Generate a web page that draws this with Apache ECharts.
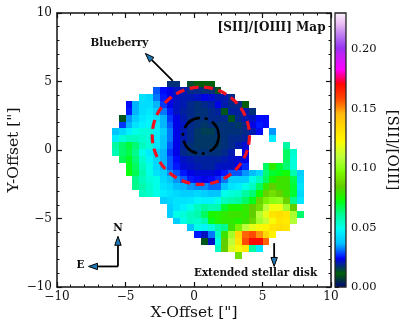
<!DOCTYPE html>
<html>
<head>
<meta charset="utf-8">
<style>html,body{margin:0;padding:0;background:#fff}#c{width:407px;height:329px}</style>
<script src="https://cdn.jsdelivr.net/npm/echarts@6/dist/echarts.min.js"></script>
</head>
<body>
<div id="c"></div>
<script>
// Map values: one row per 0.5" strip, top to bottom. null = blank pixel.
const rowLowerEdges = [4.5,4,3.5,3,2.5,2,1.5,1,0.5,0,-0.5,-1,-1.5,-2,-2.5,-3,-3.5,-4,-4.5,-5,-5.5,-6,-6.5,-7,-7.5,-8];
const rowLeftEdges  = [-2,-3,-4,-5,-5,-5.5,-5.5,-6,-6,-6,-6,-5.5,-5,-5,-4.5,-4.5,-4,-2.5,-2,-2,-1.5,-0.5,0,0.5,1.5,3];
const row00 = [.018,.018,null,.014,.012,.012,.012];
const row01 = [.030,.025,.024,.022,.021,.019,.019,.018,.018,.013];
const row02 = [.044,.042,.032,.026,.024,.022,.021,.021,.022,.024,.023,.021,.021,.019];
const row03 = [.025,.036,.043,.043,.036,.028,.024,.022,.021,.019,.018,.019,.020,.024,.021,.019,.019,.012];
const row04 = [.026,.036,.043,.045,.040,.032,.026,.022,.020,.019,.018,.018,.019,.020,.013,.020,.020,.021,.018];
const row05 = [.013,.034,.040,.045,.047,.044,.036,.028,.024,.021,.019,.018,.018,.019,.019,.019,.013,.019,.021,.022,.025,.025];
const row06 = [.028,.036,.044,.047,.048,.046,.036,.030,.024,.022,.019,.018,.017,.018,.018,.018,.018,.017,.019,.024,.026,.025];
const row07 = [.038,.042,.047,.050,.052,.052,.047,.040,.032,.024,.021,.019,.017,.016,.016,.018,.018,.018,.018,.019,.021,.025,null,.034];
const row08 = [.046,.052,.056,.056,.054,.052,.046,.038,.032,.024,.021,.019,.017,.017,.017,.017,.018,.019,.019,.020,null,null,null,.046];
const row09 = [.060,.065,.069,.064,.056,.052,.045,.038,.030,.024,.020,.018,.017,.017,.017,.017,.018,.019,.021,.023,null,null,null,null,null,.060];
const row10 = [.057,.065,.068,.062,.050,.046,.040,.036,.028,.024,.019,.018,.018,.018,.018,.018,.019,.021,null,.024,null,null,null,null,null,.066,.054];
const row11 = [.067,.071,.064,.054,.048,.042,.036,.030,.025,.022,.021,.020,.020,.020,.020,.021,.022,.023,.024,null,null,null,null,null,.066,.052];
const row12 = [.072,.066,.056,.050,.042,.036,.030,.026,.023,.022,.021,.020,.020,.022,.022,.022,.024,.027,null,null,.066,.078,.070,.064,.052];
const row13 = [.073,.067,.058,.050,.044,.040,.034,.030,.026,.024,.023,.023,.023,.024,.026,.030,.030,.034,.037,.042,.064,.070,.072,.074,.058,.040];
const row14 = [.062,.056,.052,.050,.042,.038,.034,.030,.026,.025,.024,.025,.027,.032,.040,.040,.040,.050,.056,.066,.075,.080,.080,.068,.042];
const row15 = [.062,.058,.054,.050,.044,.042,.037,.036,.034,.033,.033,.031,.031,.038,.044,.046,.050,.055,.066,.078,.085,.080,.080,.070,.044];
const row16 = [.056,.054,.050,.046,.044,.042,.040,.040,.042,.040,.038,.038,.050,.052,.054,.060,.064,.074,.086,.090,.086,.080,.070,.042];
const row17 = [.040,.042,.044,.044,.045,.048,.047,.047,.050,.056,.058,.060,.065,.072,.087,.095,.100,.102,.087,.062,.045];
const row18 = [.040,.044,.047,.050,.056,.060,.057,.058,.070,.075,.075,.078,.085,.090,.110,.120,.120,.105,.085];
const row19 = [.040,.050,.052,.056,.058,.066,.075,.076,.078,.080,.080,.078,.085,.108,.118,.130,.132,.130,.106,.065];
const row20 = [.040,.050,.055,.054,.058,.072,.076,.078,.078,.076,.080,.088,.105,.112,.122,.130,.128,.108];
const row21 = [.038,.050,.048,.052,.058,.062,.080,.095,.110,.118,.122,.124,.130,.132,.130];
const row22 = [.026,.022,.032,.055,.080,.105,.135,.155,.158,.150,.135,.125];
const row23 = [.013,.022,.050,.085,.110,.130,.158,.170,.170,.155];
const row24 = [.055,.085,.115,.122,.128,.060,.045];
const row25 = [.090];
const mapRows = [row00,row01,row02,row03,row04,row05,row06,row07,row08,row09,row10,row11,row12,row13,row14,row15,row16,row17,row18,row19,row20,row21,row22,row23,row24,row25];

const colorTicks = [0,0.05,0.10,0.15,0.20];
const colorMax = 0.2307;

// Overlay geometry in arcsec
const redCircle = [0.5,1.04,3.55];
const blackCircle = [0.5,1.04,1.31];
const blueberryArrow = [-1.55,5.05,-3.55,7.05];
const northArrow = [-5.55,-8.5,-5.55,-6.3];
const eastArrow = [-5.55,-8.5,-7.7,-8.5];
const diskArrow = [5.85,-6.8,5.85,-8.5];
const labelItems = [
  ['[SII]/[OIII] Map',9.6,8.9,'right',12],
  ['Blueberry',-7.55,7.8,'left',10.4],
  ['N',-5.55,-5.75,'center',10.4],
  ['E',-8.0,-8.45,'right',10.4],
  ['Extended stellar disk',0,-9.0,'left',10.4]
];

// colour scale stops (position, level)
const R=[[0,0],[.3098,0],[.3725,.3993],[.4235,.5003],[.5333,1],[.7922,1],[.8471,.75],[.87,.6],[.92,.75],[.96,.92],[1,1]];
const G=[[0,0],[.051,.3722],[.1059,0],[.1569,.7202],[.1608,.7537],[.1647,.7752],[.2157,1],[.2588,.9804],[.2706,.9804],[.3176,1],[.3686,.8081],[.4275,1],[.5216,1],[.6314,.7292],[.6863,.2796],[.7451,0],[.7922,0],[.87,.2],[.92,.5],[.96,.75],[1,.97]];
const B=[[0,.502],[.051,.0222],[.1098,1],[.2039,1],[.2627,.6145],[.3216,0],[.4157,0],[.4745,.2342],[.5333,0],[.5804,0],[.6314,.0549],[.6902,0],[.7373,0],[.7922,.9738],[.8,1],[.87,.95],[.96,.95],[1,1]];
function ch(t,s){for(let i=1;i<s.length;i++){if(t<=s[i][0]){const a=s[i-1],b=s[i];return a[1]+(b[1]-a[1])*(t-a[0])/(b[0]-a[0]);}}return s[s.length-1][1];}
function cmap(t){return 'rgb('+[R,G,B].map(s=>Math.round(255*ch(t,s))).join(',')+')';}
const palette=[];for(let i=0;i<256;i++)palette.push(cmap(i/255));

const CELL=0.5, SHIFT_Y=0.07;
const cells=[];
mapRows.forEach((row,r)=>row.forEach((v,i)=>{if(v!==null)cells.push([rowLeftEdges[r]+i*CELL,rowLowerEdges[r],v]);}));

const serif='"DejaVu Serif"';
const chart=echarts.init(document.getElementById('c'),null,{renderer:'canvas'});
const fmt=v=>String(v).replace('-','\u2212');
const spine={show:true,onZero:false,lineStyle:{color:'#111',width:1.5}};
const tick={show:true,inside:true,length:5,lineStyle:{color:'#111',width:1.2}};
const minor={show:true,splitNumber:5,length:2.5,lineStyle:{color:'#111',width:1}};
const base={type:'value',min:-10,max:10,interval:5,splitLine:{show:false},minorSplitLine:{show:false},axisLine:spine,axisTick:tick,minorTick:minor};
const lab={color:'#111',fontFamily:serif,fontSize:12,formatter:fmt};

function arrow(api,a){
  const p=api.coord([a[0],a[1]]),q=api.coord([a[2],a[3]]);
  const dx=q[0]-p[0],dy=q[1]-p[1],L=Math.hypot(dx,dy),ux=dx/L,uy=dy/L;
  const hl=9,hw=3.2,bx=q[0]-ux*hl,by=q[1]-uy*hl;
  return [{type:'line',shape:{x1:p[0],y1:p[1],x2:bx,y2:by},style:{stroke:'#000',lineWidth:1.8}},
    {type:'polygon',shape:{points:[q,[bx-uy*hw,by+ux*hw],[bx+uy*hw,by-ux*hw]]},style:{fill:'#1f77b4',stroke:'#000',lineWidth:1}}];
}
function circle(api,c,color,w,dash){
  const o=api.coord([c[0],c[1]]),r=api.size([c[2],0])[0];
  return {type:'circle',shape:{cx:o[0],cy:o[1],r:r},style:{fill:'none',stroke:color,lineWidth:w,lineDash:dash}};
}

chart.setOption({
  animation:false,backgroundColor:'#fff',
  grid:[{left:57,right:76,top:13,bottom:42,outerBoundsMode:'none'},{left:335,right:61,top:13,bottom:42,outerBoundsMode:'none'}],
  xAxis:[
    {...base,gridIndex:0,position:'bottom',axisLabel:{...lab,margin:4},name:'X-Offset ["]',nameLocation:'middle',nameMoveOverlap:false,nameGap:18,nameTextStyle:{fontFamily:serif,fontSize:15.5,color:'#111'}},
    {...base,gridIndex:0,position:'top',axisLabel:{show:false}},
    {type:'value',gridIndex:1,min:0,max:1,show:false}
  ],
  yAxis:[
    {...base,gridIndex:0,position:'left',axisLabel:{...lab,margin:5},name:'Y-Offset ["]',nameLocation:'middle',nameMoveOverlap:false,nameGap:35,nameTextStyle:{fontFamily:serif,fontSize:15.5,color:'#111'}},
    {...base,gridIndex:0,position:'right',axisLabel:{show:false}},
    {type:'value',gridIndex:1,position:'right',min:0,max:colorMax,splitLine:{show:false},
     axisLine:{show:false},
     axisTick:{show:true,length:4,lineStyle:{color:'#111',width:1},customValues:colorTicks},
     axisLabel:{color:'#111',fontFamily:serif,fontSize:11.5,margin:5,customValues:colorTicks,formatter:v=>v.toFixed(2)},
     name:'[SII]/[OIII]',nameLocation:'middle',nameMoveOverlap:false,nameGap:38,nameRotate:-90,nameTextStyle:{fontFamily:serif,fontSize:15,color:'#111'}}
  ],
  visualMap:{type:'continuous',show:false,seriesIndex:0,dimension:2,min:0,max:colorMax,inRange:{color:palette}},
  series:[
    {type:'custom',xAxisIndex:0,yAxisIndex:0,coordinateSystem:'cartesian2d',clip:true,silent:true,z:2,
     encode:{x:0,y:1},data:cells,
     renderItem(params,api){
       const x=api.value(0),y=api.value(1);
       const a=api.coord([x,y+SHIFT_Y]),b=api.coord([x+CELL,y+CELL+SHIFT_Y]);
       const x0=Math.round(a[0]),x1=Math.round(b[0]),y0=Math.round(b[1]),y1=Math.round(a[1]);
       return {type:'rect',shape:{x:x0,y:y0,width:x1-x0,height:y1-y0},style:{fill:api.visual('color')}};
     }},
    {type:'custom',xAxisIndex:0,yAxisIndex:0,silent:true,z:5,data:[[0,0]],clip:false,
     renderItem(params,api){
       const kids=[circle(api,redCircle,'#f01020',3.2,[9,5.5]),circle(api,blackCircle,'#000',2.6,[19,5,3,5])];
       [blueberryArrow,northArrow,eastArrow,diskArrow].forEach(a=>kids.push(...arrow(api,a)));
       labelItems.forEach(t=>{const p=api.coord([t[1],t[2]]);
         kids.push({type:'text',x:p[0],y:p[1],style:{text:t[0],fill:'#111',font:'bold '+t[4]+'px '+serif,textAlign:t[3],textVerticalAlign:'middle'}});});
       return {type:'group',children:kids};
     }},
    {type:'custom',xAxisIndex:2,yAxisIndex:2,silent:true,z:3,data:[[0,0]],
     renderItem(params,api){
       const a=api.coord([0,0]),b=api.coord([1,colorMax]);
       const stops=[];for(let i=0;i<=255;i++)stops.push({offset:i/255,color:palette[i]});
       return {type:'rect',shape:{x:a[0],y:b[1],width:b[0]-a[0],height:a[1]-b[1]},
         style:{fill:new echarts.graphic.LinearGradient(0,1,0,0,stops),stroke:'#222',lineWidth:1.3}};
     }}
  ]
});
</script>
</body>
</html>
